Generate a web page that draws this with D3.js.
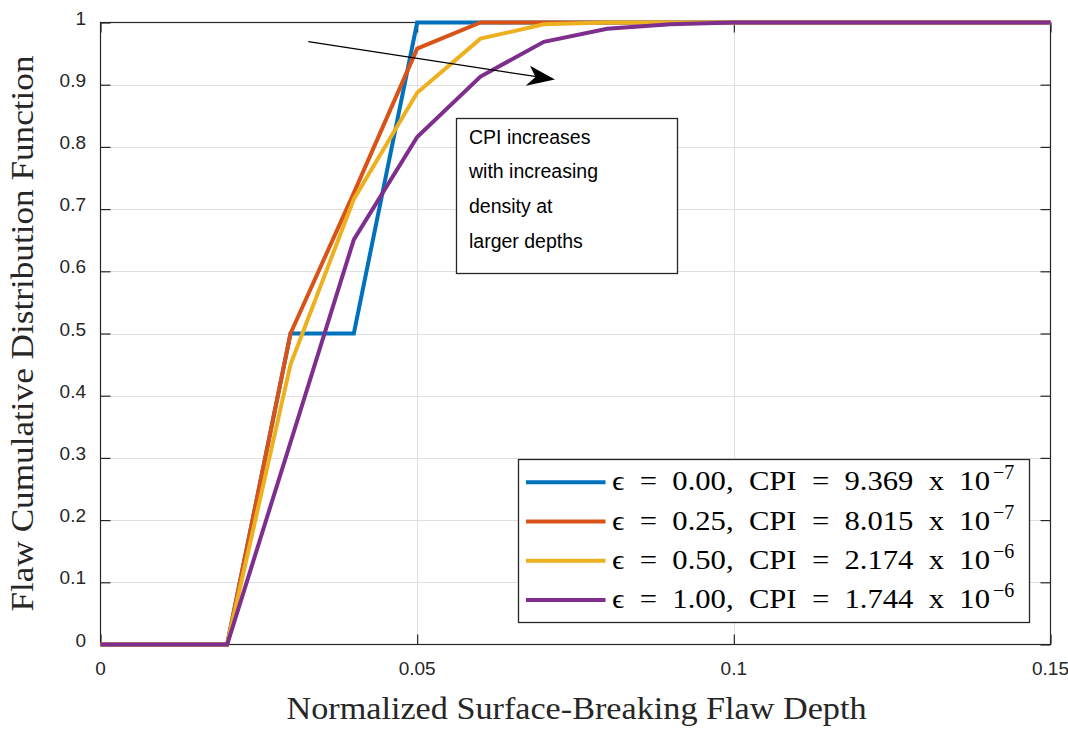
<!DOCTYPE html>
<html>
<head>
<meta charset="utf-8">
<script src="https://cdn.jsdelivr.net/npm/d3@7"></script>
<style>
  html, body { margin: 0; padding: 0; background: #fff; }
  svg { display: block; }
  .pre { white-space: pre; }
</style>
</head>
<body>
<svg id="chart" width="1068" height="730"></svg>
<script>
// Normalized flaw depth sample points
const depths = [0, 0.01, 0.02, 0.03, 0.04, 0.05, 0.06, 0.07, 0.08, 0.09, 0.10, 0.11, 0.12, 0.13, 0.14, 0.15];

// Flaw CDF for each weighting value
const cdfEps000 = [0, 0, 0, 0.50, 0.50, 1.000, 1.000, 1.000, 1.000, 1.000, 1, 1, 1, 1, 1, 1];
const cdfEps025 = [0, 0, 0, 0.50, 0.726, 0.958, 1.000, 1.000, 1.000, 1.000, 1, 1, 1, 1, 1, 1];
const cdfEps050 = [0, 0, 0, 0.45, 0.716, 0.887, 0.974, 0.997, 1.000, 1.000, 1, 1, 1, 1, 1, 1];
const cdfEps100 = [0, 0, 0, 0.325, 0.651, 0.816, 0.913, 0.969, 0.990, 0.997, 1, 1, 1, 1, 1, 1];

const seriesNames = ["0.00", "0.25", "0.50", "1.00"];
const cpiMantissa = ["9.369", "8.015", "2.174", "1.744"];
const cpiExponent = ["\u22127", "\u22127", "\u22126", "\u22126"];
const seriesColors = ["#0072BD", "#D95319", "#EDB120", "#7E2F8E"];

const xTicks = [0, 0.05, 0.1, 0.15];
const xTickLabels = ["0", "0.05", "0.1", "0.15"];
const yTicks = [0, 0.1, 0.2, 0.3, 0.4, 0.5, 0.6, 0.7, 0.8, 0.9, 1];
const yTickLabels = ["0", "0.1", "0.2", "0.3", "0.4", "0.5", "0.6", "0.7", "0.8", "0.9", "1"];

const noteLines = ["CPI increases", "with increasing", "density at", "larger depths"];

const svg = d3.select("#chart");
const plot = { left: 100.5, right: 1050.5, top: 22.5, bottom: 644.5 };

const x = d3.scaleLinear().domain([0, 0.15]).range([plot.left, plot.right]);
const y = d3.scaleLinear().domain([0, 1]).range([plot.bottom, plot.top]);

const axisColor = "#262626";
const tickFont = "'Liberation Sans', Arial, Helvetica, sans-serif";
const serifFont = "'Liberation Serif', 'Times New Roman', serif";

// Grid lines
const grid = svg.append("g").attr("stroke", "#e0e0e0").attr("stroke-width", 1);
grid.selectAll("line.gy").data(yTicks.slice(1, -1)).join("line")
  .attr("x1", plot.left).attr("x2", plot.right)
  .attr("y1", d => Math.round(y(d)) + 0.5).attr("y2", d => Math.round(y(d)) + 0.5);
grid.selectAll("line.gx").data(xTicks.slice(1, -1)).join("line")
  .attr("y1", plot.top).attr("y2", plot.bottom)
  .attr("x1", d => Math.round(x(d)) + 0.5).attr("x2", d => Math.round(x(d)) + 0.5);

// Axes with inward ticks on all four sides
const tickLen = 10;
const axisLeft = d3.axisLeft(y).tickValues(yTicks).tickSize(-tickLen).tickFormat("");
const axisRight = d3.axisRight(y).tickValues(yTicks).tickSize(-tickLen).tickFormat("");
const axisBottom = d3.axisBottom(x).tickValues(xTicks).tickSize(-tickLen).tickFormat("");
const axisTop = d3.axisTop(x).tickValues(xTicks).tickSize(-tickLen).tickFormat("");

function styleAxis(g) {
  g.selectAll("path, line").attr("stroke", axisColor).attr("stroke-width", 1.2);
  g.select(".domain").remove();
}
svg.append("g").attr("transform", `translate(${plot.left},0)`).call(axisLeft).call(styleAxis);
svg.append("g").attr("transform", `translate(${plot.right},0)`).call(axisRight).call(styleAxis);
svg.append("g").attr("transform", `translate(0,${plot.bottom})`).call(axisBottom).call(styleAxis);
svg.append("g").attr("transform", `translate(0,${plot.top})`).call(axisTop).call(styleAxis);

svg.append("rect")
  .attr("x", plot.left).attr("y", plot.top)
  .attr("width", plot.right - plot.left).attr("height", plot.bottom - plot.top)
  .attr("fill", "none").attr("stroke", axisColor).attr("stroke-width", 1.2);

// Tick labels
svg.append("g").selectAll("text").data(yTicks).join("text")
  .attr("x", 86).attr("y", d => y(d) + 2)
  .attr("text-anchor", "end")
  .attr("font-family", tickFont).attr("font-size", 19).attr("fill", axisColor)
  .text((d, i) => yTickLabels[i]);
svg.append("g").selectAll("text").data(xTicks).join("text")
  .attr("x", d => x(d)).attr("y", 675)
  .attr("text-anchor", "middle")
  .attr("font-family", tickFont).attr("font-size", 19).attr("fill", axisColor)
  .text((d, i) => xTickLabels[i]);

// Axis titles
svg.append("text")
  .attr("x", (plot.left + plot.right) / 2 + 1).attr("y", 719)
  .attr("text-anchor", "middle")
  .attr("font-family", serifFont).attr("font-size", 31).attr("fill", "#262626")
  .attr("textLength", 580).attr("lengthAdjust", "spacingAndGlyphs")
  .text("Normalized Surface-Breaking Flaw Depth");
svg.append("text")
  .attr("transform", "translate(33,333.5) rotate(-90)")
  .attr("text-anchor", "middle")
  .attr("font-family", serifFont).attr("font-size", 31).attr("fill", "#262626")
  .attr("textLength", 556).attr("lengthAdjust", "spacingAndGlyphs")
  .text("Flaw Cumulative Distribution Function");

// CDF curves
const allSeries = [cdfEps000, cdfEps025, cdfEps050, cdfEps100];
const line = d3.line().x((d, i) => x(depths[i])).y(d => y(d));
svg.append("g").selectAll("path").data(allSeries).join("path")
  .attr("d", d => line(d))
  .attr("fill", "none")
  .attr("stroke", (d, i) => seriesColors[i])
  .attr("stroke-width", 4)
  .attr("stroke-linejoin", "miter")
  .attr("stroke-miterlimit", 10);

// Trend arrow
const arrowStart = [308.3, 41.7], arrowTip = [555, 79.5];
svg.append("line")
  .attr("x1", arrowStart[0]).attr("y1", arrowStart[1])
  .attr("x2", 540).attr("y2", 77.2)
  .attr("stroke", "#000").attr("stroke-width", 1.3);
svg.append("path")
  .attr("d", `M${arrowTip[0]},${arrowTip[1]} L530,65.7 L535.5,77 L525.7,85.7 Z`)
  .attr("fill", "#000");

// Annotation box
svg.append("rect")
  .attr("x", 456.5).attr("y", 118.5).attr("width", 221).attr("height", 155)
  .attr("fill", "#fff").attr("stroke", "#262626").attr("stroke-width", 1.3);
const noteBaselines = [144, 178, 212.5, 248];
svg.append("g").selectAll("text").data(noteLines).join("text")
  .attr("x", 469).attr("y", (d, i) => noteBaselines[i])
  .attr("font-family", tickFont).attr("font-size", 19.5).attr("fill", "#000")
  .text(d => d);

// Legend
const legend = svg.append("g");
legend.append("rect")
  .attr("x", 518.5).attr("y", 459.5).attr("width", 511).attr("height", 163)
  .attr("fill", "#fff").attr("stroke", "#262626").attr("stroke-width", 1.3);
const rowY = i => 482.3 + i * 39.2;
seriesNames.forEach((name, i) => {
  const ry = rowY(i);
  legend.append("line")
    .attr("x1", 526).attr("x2", 605.5).attr("y1", ry).attr("y2", ry)
    .attr("stroke", seriesColors[i]).attr("stroke-width", 4);
  legend.append("text")
    .attr("class", "pre")
    .attr("x", 612).attr("y", ry + 8)
    .attr("font-family", serifFont).attr("font-size", 27).attr("fill", "#000")
    .attr("textLength", 378).attr("lengthAdjust", "spacingAndGlyphs")
    .text(`\u03F5  =  ${name},  CPI  =  ${cpiMantissa[i]}  x  10`);
  legend.append("text")
    .attr("x", 993).attr("y", ry - 3)
    .attr("font-family", serifFont).attr("font-size", 20).attr("fill", "#000")
    .text(cpiExponent[i]);
});
</script>
</body>
</html>
